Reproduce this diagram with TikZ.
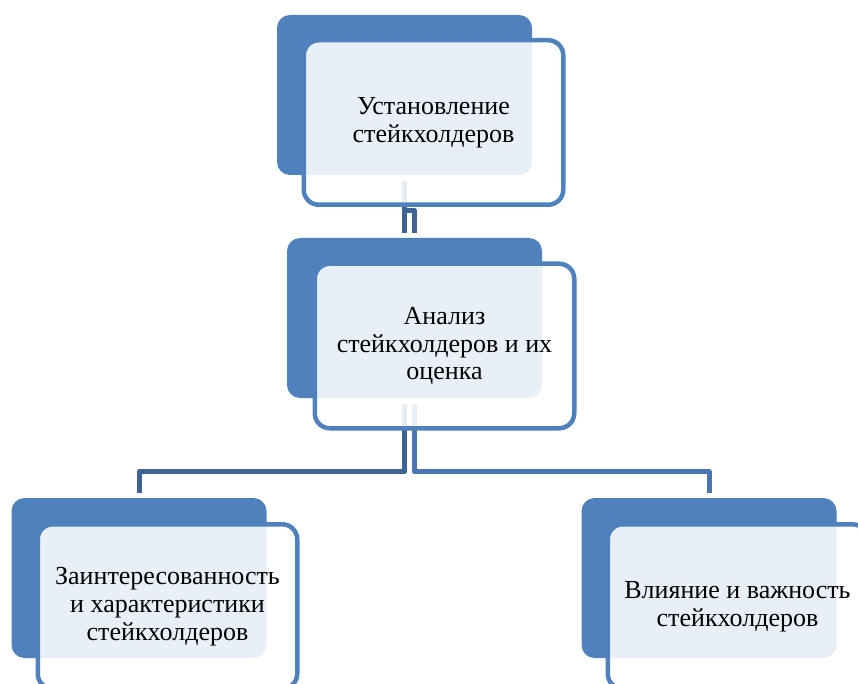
\documentclass[tikz,border=0pt]{standalone}
\usepackage{fontspec}
\setmainfont{Liberation Serif}
\usetikzlibrary{calc}
\definecolor{accent}{RGB}{79,129,189}
\definecolor{lineA}{RGB}{62,99,148}
\definecolor{lineB}{RGB}{72,118,178}
\begin{document}
\begin{tikzpicture}[x=1pt,y=1pt,
  back/.style={fill=accent, rounded corners=13pt, minimum width=255pt, minimum height=160pt, inner sep=0pt},
  front/.style={draw=accent, line width=4.5pt, fill=white, fill opacity=0.88, text opacity=1, rounded corners=15pt, minimum width=259.5pt, minimum height=164.5pt, inner sep=0pt, align=center, font=\fontsize{26}{27.7}\selectfont},
  connA/.style={draw=lineA, line width=5pt, line join=round},
  connB/.style={draw=lineB, line width=5pt, line join=round}]
\useasboundingbox (0,0) rectangle (858,-684);
\clip (0,0) rectangle (858,-684);
% back boxes
\node[back] (b1) at (404.5,-95) {};
\node[back] (b2) at (414.5,-318) {};
\node[back] (b3) at (139,-578) {};
\node[back] (b4) at (709,-578) {};
% connectors
\coordinate (c1s) at ($(b1.south)+(0,-6)$);
\coordinate (c1m) at ($(b1.south)+(0,-35)$);
\coordinate (c1e) at ($(b2.north)+(0,5)$);
\draw[connA] (c1s) -- (c1s |- c1e);
\draw[connA] (c1m) -| (c1e);
\coordinate (c2l) at ($(b2.south)+(-10,-6)$);
\coordinate (c2r) at ($(b2.south)+(0,-6)$);
\coordinate (e3) at ($(b3.north)+(0,5)$);
\coordinate (e4) at ($(b4.north)+(0,5)$);
\draw[connA] (c2l) -- ++(0,-67.5) -| (e3);
\draw[connB] (c2r) -- ++(0,-67.5) -| (e4);
% front boxes with text
\node[front] (f1) at ($(b1)+(29,-27.5)$) {Установление\\стейкхолдеров};
\node[front] (f2) at ($(b2)+(30,-28)$) {Анализ\\стейкхолдеров и их\\оценка};
\node[front] (f3) at ($(b3)+(28.5,-28.5)$) {Заинтересованность\\и характеристики\\стейкхолдеров};
\node[front] (f4) at ($(b4)+(28.5,-28.5)$) {Влияние и важность\\стейкхолдеров};
\end{tikzpicture}
\end{document}
